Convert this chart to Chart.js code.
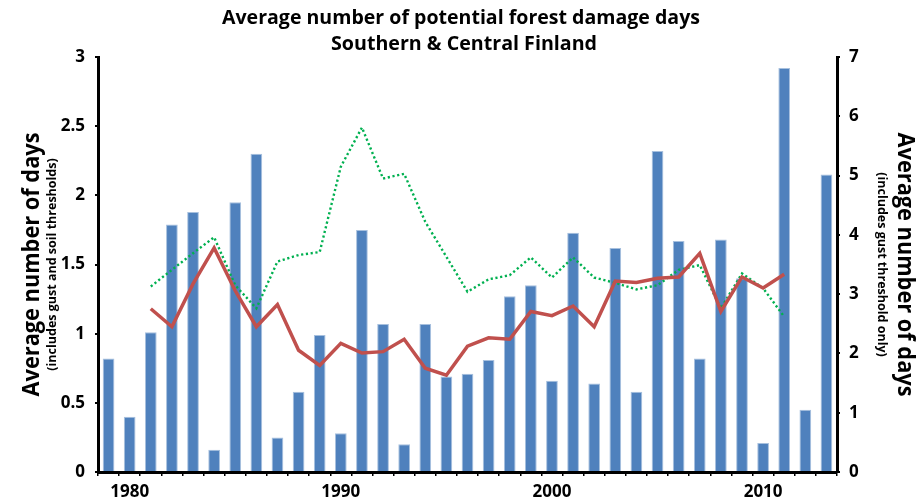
<!DOCTYPE html>
<html>
<head>
<meta charset="utf-8">
<script src="https://cdn.jsdelivr.net/npm/chart.js@4/dist/chart.umd.min.js"></script>
<style>
  html, body { margin: 0; padding: 0; background: #fff; }
  #wrap { width: 921px; height: 497px; position: relative; }
</style>
</head>
<body>
<div id="wrap"><canvas id="c" width="921" height="497"></canvas></div>
<script>
// Years on the category axis
const years = [];
for (let y = 1979; y <= 2013; y++) years.push(String(y));

// Yearly average of damage days (gust and soil thresholds), left axis
const gustSoilDays = [
  0.82, 0.40, 1.01, 1.79, 1.88, 0.16, 1.95, 2.30, 0.25, 0.58,
  0.99, 0.28, 1.75, 1.07, 0.20, 1.07, 0.69, 0.71, 0.81, 1.27,
  1.35, 0.66, 1.73, 0.64, 1.62, 0.58, 2.32, 1.67, 0.82, 1.68,
  1.40, 0.21, 2.92, 0.45, 2.15
];

// 5-year running mean of the bars, left axis
const gustSoilMean = [
  null, null, 1.18, 1.05, 1.36, 1.62, 1.31, 1.05, 1.21, 0.88,
  0.77, 0.93, 0.86, 0.87, 0.96, 0.75, 0.70, 0.91, 0.97, 0.96,
  1.16, 1.13, 1.20, 1.05, 1.38, 1.37, 1.40, 1.41, 1.58, 1.16,
  1.41, 1.33, 1.43, null, null
];

// 5-year running mean, gust threshold only, right axis
const gustOnlyMean = [
  null, null, 3.13, 3.41, 3.69, 3.96, 3.15, 2.76, 3.55, 3.66,
  3.71, 5.15, 5.81, 4.95, 5.03, 4.22, 3.63, 3.04, 3.25, 3.32,
  3.62, 3.28, 3.62, 3.28, 3.19, 3.08, 3.15, 3.41, 3.49, 2.76,
  3.35, 3.10, 2.62, null, null
];

const leftTicks = ['0', '0.5', '1', '1.5', '2', '2.5', '3'];
const rightTicks = ['0', '1', '2', '3', '4', '5', '6', '7'];
const yearLabels = ['1980', '1990', '2000', '2010'];

const titleLines = ['Average number of potential forest damage days', 'Southern & Central Finland'];
const leftTitle = 'Average number of days';
const leftSub = '(includes gust and soil thresholds)';
const rightTitle = 'Average number of days';
const rightSub = '(includes gust threshold only)';

const FONT = '"Open Sans", "Liberation Sans", sans-serif';

// Headings and rotated axis titles, drawn after the chart
const textPlugin = {
  id: 'texts',
  afterDraw(chart) {
    const ctx = chart.ctx;
    ctx.save();
    ctx.fillStyle = '#000';
    ctx.textAlign = 'center';
    ctx.textBaseline = 'middle';
    ctx.font = 'bold 20px ' + FONT;
    ctx.fillText(titleLines[0], 461, 18, 478);
    ctx.fillText(titleLines[1], 464, 44, 266);

    const cy = (chart.chartArea.top + chart.chartArea.bottom) / 2;
    // left side, reads bottom to top
    ctx.save();
    ctx.translate(32, cy);
    ctx.rotate(-Math.PI / 2);
    ctx.font = 'bold 24px ' + FONT;
    ctx.fillText(leftTitle, 0, 0, 264);
    ctx.restore();
    ctx.save();
    ctx.translate(52, cy);
    ctx.rotate(-Math.PI / 2);
    ctx.font = 'bold 12.5px ' + FONT;
    ctx.fillText(leftSub, 0, 0, 246);
    ctx.restore();
    // right side, reads top to bottom
    ctx.save();
    ctx.translate(905, cy);
    ctx.rotate(Math.PI / 2);
    ctx.font = 'bold 24px ' + FONT;
    ctx.fillText(rightTitle, 0, 0, 264);
    ctx.restore();
    ctx.save();
    ctx.translate(882, cy);
    ctx.rotate(Math.PI / 2);
    ctx.font = 'bold 12.5px ' + FONT;
    ctx.fillText(rightSub, 0, 0, 212);
    ctx.restore();
    ctx.restore();
  }
};

new Chart(document.getElementById('c'), {
  data: {
    labels: years,
    datasets: [
      {
        type: 'line',
        data: gustSoilMean,
        yAxisID: 'yL',
        borderColor: '#C0504D',
        borderWidth: 3.5,
        pointRadius: 0,
        tension: 0,
        spanGaps: false,
        order: 1
      },
      {
        type: 'line',
        data: gustOnlyMean,
        yAxisID: 'yR',
        borderColor: '#00B050',
        borderWidth: 2.4,
        borderDash: [2.2, 2.6],
        pointRadius: 0,
        tension: 0,
        order: 2
      },
      {
        type: 'bar',
        data: gustSoilDays,
        yAxisID: 'yL',
        backgroundColor: '#4F81BD',
        borderColor: '#A7C0DE',
        borderWidth: 1,
        categoryPercentage: 1,
        barPercentage: 0.555,
        order: 3
      }
    ]
  },
  options: {
    responsive: false,
    animation: false,
    devicePixelRatio: 1,
    layout: { padding: { top: 57, left: 0, right: 0, bottom: 0 } },
    plugins: { legend: { display: false }, tooltip: { enabled: false }, title: { display: false } },
    scales: {
      x: {
        type: 'category',
        offset: true,
        grid: { display: true, offset: true, drawOnChartArea: false, tickLength: 4, color: '#000', lineWidth: 1.5 },
        border: { display: true, color: '#000', width: 3 },
        ticks: {
          autoSkip: false,
          maxRotation: 0,
          minRotation: 0,
          padding: 6,
          color: '#000',
          font: { family: FONT, size: 17, weight: 'bold' },
          callback: function (v, i) {
            const lab = years[i];
            return yearLabels.includes(lab) ? lab : '';
          }
        },
        afterFit: s => { s.height = 25; }
      },
      yL: {
        position: 'left',
        min: 0, max: 3,
        grid: { display: true, drawOnChartArea: false, tickLength: 3, color: '#000', lineWidth: 2 },
        border: { display: true, color: '#000', width: 3 },
        ticks: {
          stepSize: 0.5,
          padding: 10,
          color: '#000',
          font: { family: FONT, size: 17, weight: 'bold' },
          callback: (v, i) => leftTicks[i]
        },
        afterFit: s => { s.width = 98; }
      },
      yR: {
        position: 'right',
        min: 0, max: 7,
        grid: { display: true, drawOnChartArea: false, tickLength: 3, color: '#000', lineWidth: 2 },
        border: { display: true, color: '#000', width: 3 },
        ticks: {
          stepSize: 1,
          padding: 9,
          color: '#000',
          font: { family: FONT, size: 17, weight: 'bold' },
          callback: (v, i) => rightTicks[i]
        },
        afterFit: s => { s.width = 84; }
      }
    }
  },
  plugins: [textPlugin]
});
</script>
</body>
</html>
